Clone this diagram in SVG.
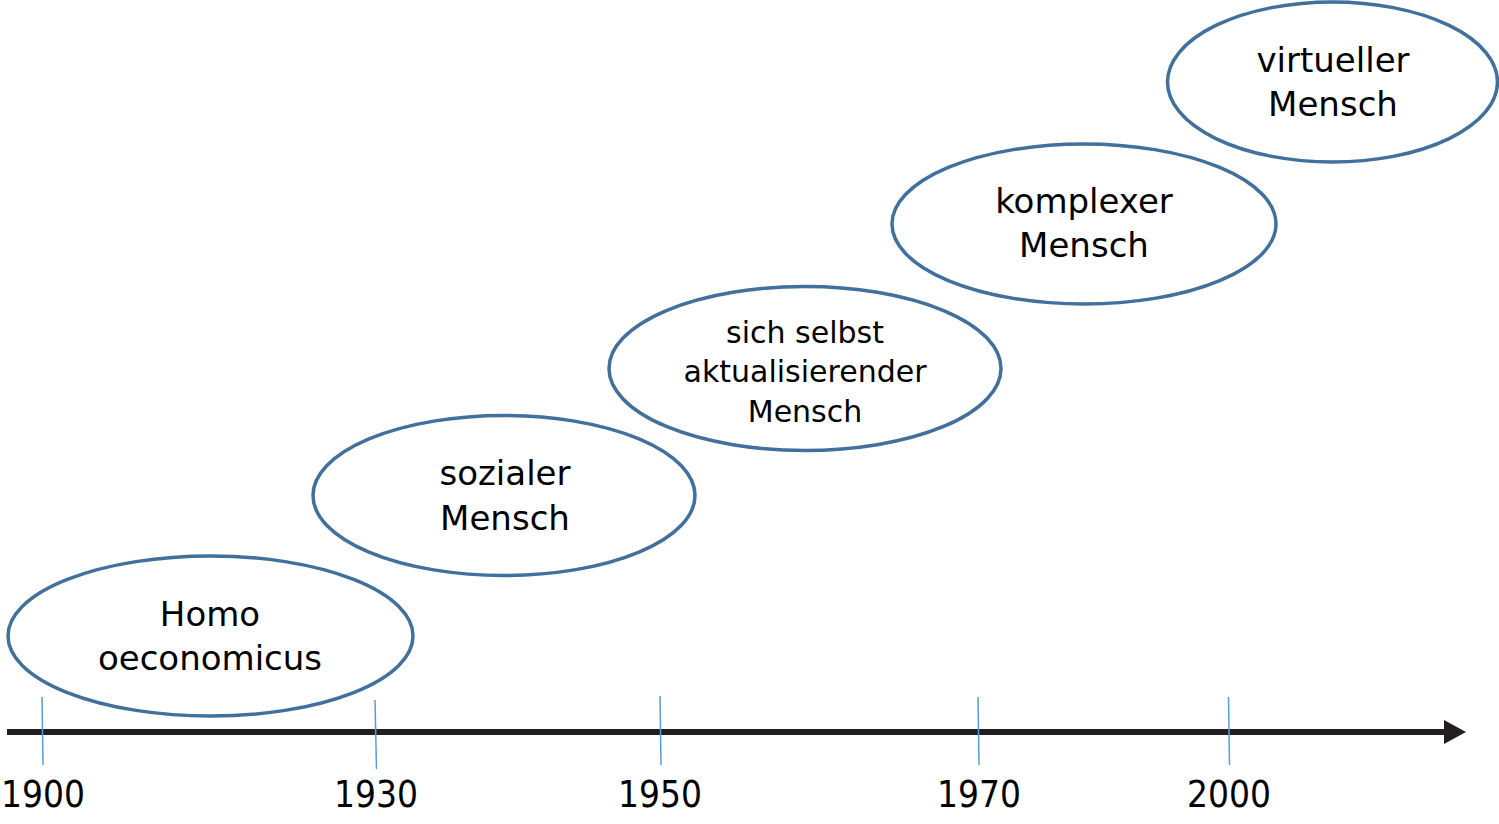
<svg xmlns="http://www.w3.org/2000/svg" width="1499" height="824" viewBox="0 0 1499 824">
<style>
.node ellipse{fill:#fff;stroke:#41709c;stroke-width:3.5}
.lbl{font-family:"DejaVu Sans","Liberation Sans",sans-serif;font-size:34px;fill:#000;text-anchor:middle}
.sm{font-size:30px}
.yr{font-family:"DejaVu Sans","Liberation Sans",sans-serif;font-size:37px;fill:#000;text-anchor:middle}
.tick{stroke:#5b9bd5;stroke-width:1.5}
.axis{stroke:#231f20;stroke-width:6}
</style>
<defs>
<marker id="arrow" markerUnits="userSpaceOnUse" markerWidth="24" markerHeight="26" refX="6" refY="12" orient="auto">
<path d="M0,0 L22,12 L0,24 Z" fill="#231f20"/>
</marker>
</defs>
<rect width="1499" height="824" fill="#fff"/>
<g id="connectors">
<line class="axis" x1="7" y1="732" x2="1450" y2="732" marker-end="url(#arrow)"/>
<line class="tick" x1="42" y1="697" x2="43" y2="765"/>
<line class="tick" x1="375" y1="700" x2="376.5" y2="769"/>
<line class="tick" x1="660" y1="696" x2="661" y2="765"/>
<line class="tick" x1="978" y1="697" x2="979" y2="765"/>
<line class="tick" x1="1228.5" y1="697" x2="1229.5" y2="765"/>
</g>
<g id="years">
<text class="yr" x="43" y="807" textLength="84" lengthAdjust="spacingAndGlyphs">1900</text>
<text class="yr" x="376" y="807" textLength="84" lengthAdjust="spacingAndGlyphs">1930</text>
<text class="yr" x="660" y="807" textLength="84" lengthAdjust="spacingAndGlyphs">1950</text>
<text class="yr" x="979" y="807" textLength="84" lengthAdjust="spacingAndGlyphs">1970</text>
<text class="yr" x="1229" y="807" textLength="84" lengthAdjust="spacingAndGlyphs">2000</text>
</g>
<g id="homo" class="node">
<ellipse cx="210.5" cy="636" rx="202.5" ry="80"/>
<text class="lbl" x="210" y="626">Homo</text>
<text class="lbl" x="210" y="670">oeconomicus</text>
</g>
<g id="sozial" class="node">
<ellipse cx="504" cy="495.5" rx="191" ry="80"/>
<text class="lbl" x="505" y="485">sozialer</text>
<text class="lbl" x="505" y="530">Mensch</text>
</g>
<g id="selbst" class="node">
<ellipse cx="805" cy="368.5" rx="196" ry="82"/>
<text class="lbl sm" x="805" y="343">sich selbst</text>
<text class="lbl sm" x="805" y="382">aktualisierender</text>
<text class="lbl sm" x="805" y="422">Mensch</text>
</g>
<g id="komplex" class="node">
<ellipse cx="1084" cy="224" rx="192" ry="80"/>
<text class="lbl" x="1084" y="213">komplexer</text>
<text class="lbl" x="1084" y="257">Mensch</text>
</g>
<g id="virtuell" class="node">
<ellipse cx="1332.5" cy="82" rx="165" ry="80"/>
<text class="lbl" x="1333" y="72">virtueller</text>
<text class="lbl" x="1333" y="116">Mensch</text>
</g>
</svg>
